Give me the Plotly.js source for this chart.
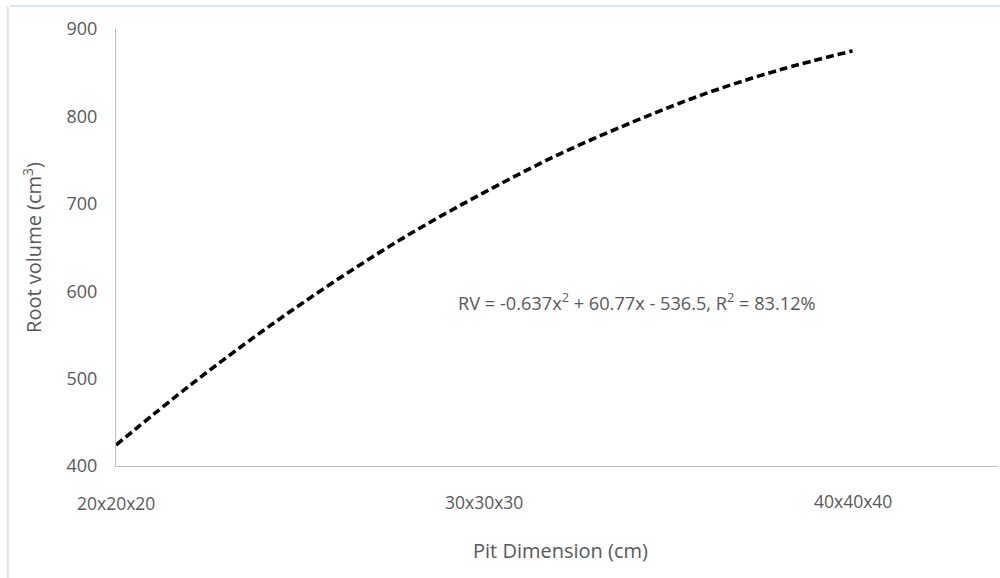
<!DOCTYPE html>
<html>
<head>
<meta charset="utf-8">
<script src="https://cdn.plot.ly/plotly-3.0.1.min.js"></script>
<style>html,body{margin:0;padding:0;background:#fff;}#chart{width:1000px;height:578px;}</style>
</head>
<body>
<div id="chart"></div>
<script>
// Pit side length (cm) and root volume (cm³)
const pitSize = [20, 22, 24, 26, 28, 30, 32, 34, 36, 38, 40];
const rootVolume = [424, 492, 555, 613, 666, 713, 756, 793, 826, 853, 875];
const tickValues = [20, 30, 40];
const tickLabels = ["20x20x20", "30x30x30", "40x40x40"];
const yTicks = [400, 500, 600, 700, 800, 900];
const equationText = "RV = -0.637x<sup>2</sup> + 60.77x - 536.5, R<sup>2</sup> = 83.12%";
const xTitle = "Pit Dimension (cm)";
const yTitle = "Root volume (cm<sup>3</sup>)";

const grey = "#595959";
const fontFam = "'Open Sans', 'Noto Sans', sans-serif";

const trace = {
  x: pitSize, y: rootVolume, type: "scatter", mode: "lines",
  line: {color: "#000", width: 3.6, dash: "8px,4px", shape: "spline", smoothing: 1.0},
  hoverinfo: "skip", showlegend: false
};

const tickShift = [-37, -36, -35];
const annotations = tickValues.map((v, i) => ({
  x: v, xref: "x", y: 0, yref: "paper", yanchor: "middle", xanchor: "center",
  yshift: tickShift[i],
  text: tickLabels[i], showarrow: false, font: {family: fontFam, size: 17.5, color: grey}
}));
annotations.push({
  x: 29.24, xref: "x", y: 588, yref: "y", xanchor: "left", yanchor: "middle",
  text: equationText, showarrow: false, font: {family: fontFam, size: 18.2, color: grey}
});
annotations.push({
  x: 0.5045, xref: "paper", y: -0.1945, yref: "paper", xanchor: "center", yanchor: "middle",
  text: xTitle, showarrow: false, font: {family: fontFam, size: 20, color: grey}
});
annotations.push({
  x: -0.0941, xref: "paper", y: 0.499, yref: "paper", xanchor: "center", yanchor: "middle",
  textangle: -90, text: yTitle, showarrow: false, font: {family: fontFam, size: 20, color: grey}
});

const layout = {
  width: 1000, height: 578,
  margin: {l: 116, r: 2, t: 29, b: 112},
  paper_bgcolor: "#fff", plot_bgcolor: "#fff",
  font: {family: fontFam, size: 14, color: grey},
  xaxis: {
    range: [20, 43.95], showgrid: false, zeroline: false,
    showline: true, linecolor: "#bfbfbf", linewidth: 1,
    tickvals: tickValues, showticklabels: false, ticks: ""
  },
  yaxis: {
    range: [400, 900], showgrid: false, zeroline: false,
    showline: true, linecolor: "#bfbfbf", linewidth: 1,
    tickvals: yTicks, ticks: "", ticklen: 0, ticklabelstandoff: 14,
    tickfont: {family: fontFam, size: 18, color: grey}
  },
  annotations: annotations,
  shapes: [
    {type: "line", xref: "paper", yref: "paper", x0: -0.12, x1: 1.01, y0: 1.0526, y1: 1.0526, line: {color: "#dae3f3", width: 2}},
    {type: "line", xref: "paper", yref: "paper", x0: -0.1227, x1: -0.1227, y0: -0.26, y1: 1.0526, line: {color: "#dae3f3", width: 2}}
  ]
};

Plotly.newPlot("chart", [trace], layout, {staticPlot: true, displayModeBar: false});
</script>
</body>
</html>
